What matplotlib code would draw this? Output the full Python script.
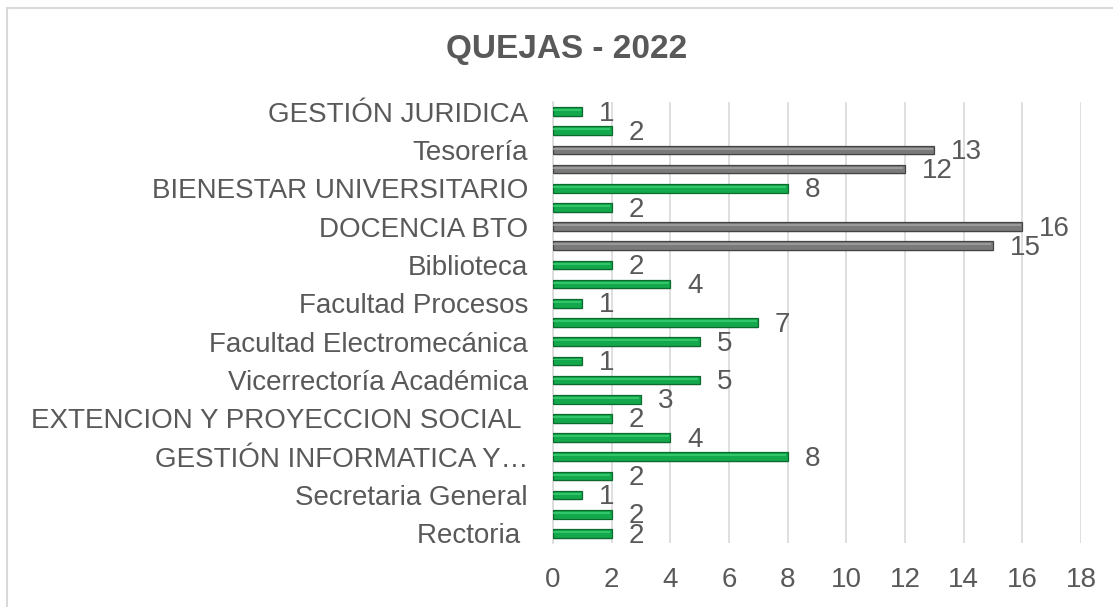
import matplotlib
matplotlib.use("Agg")
import matplotlib.pyplot as plt
import numpy as np
from matplotlib.patches import Rectangle

TITLE = "QUEJAS - 2022"

# Excel only shows every other category label; hidden ones left blank
categories = [
    "GESTIÓN JURIDICA", "", "Tesorería", "", "BIENESTAR UNIVERSITARIO", "",
    "DOCENCIA BTO", "", "Biblioteca", "", "Facultad Procesos", "",
    "Facultad Electromecánica", "", "Vicerrectoría Académica", "",
    "EXTENCION Y PROYECCION SOCIAL ", "", "GESTIÓN INFORMATICA Y…", "",
    "Secretaria General", "", "Rectoria ",
]
quejas = [1, 2, 13, 12, 8, 2, 16, 15, 2, 4, 1, 7, 5, 1, 5, 3, 2, 4, 8, 2, 1, 2, 2]
x_ticks = [0, 2, 4, 6, 8, 10, 12, 14, 16, 18]

TEXT = "#595959"
GREEN, GREEN_EDGE, GREEN_HI = "#13a84b", "#0b6a2e", "#3fd477"
GREY, GREY_EDGE, GREY_HI = "#7a7a7a", "#444444", "#a8a8a8"

plt.rcParams["font.family"] = ["Liberation Sans", "DejaVu Sans"]

fig = plt.figure(figsize=(11.13, 6.07), dpi=100)
ax = fig.add_axes([0.4969, 0.1054, 0.4744, 0.7266])

y = np.arange(len(quejas))
vals = np.array(quejas)
big = vals > 10
face = [GREY if b else GREEN for b in big]
edge = [GREY_EDGE if b else GREEN_EDGE for b in big]
hi = [GREY_HI if b else GREEN_HI for b in big]

# soft shadow, main bar, highlight stripe
ax.barh(y + 0.1, vals, height=0.45, color="#000000", alpha=0.08, zorder=2)
ax.barh(y, vals, height=0.45, color=face, edgecolor=edge, linewidth=0.9, zorder=3)
ax.barh(y - 0.07, vals - 0.06, height=0.1, color=hi, alpha=0.7, linewidth=0, zorder=4)

for yi, v in zip(y, vals):
    ax.annotate(str(v), (v, yi), xytext=(12, -1.5), textcoords="offset points",
                ha="left", va="center", fontsize=20, color=TEXT, zorder=5)

ax.set_xlim(0, 18)
ax.set_ylim(len(quejas) - 0.5, -0.5)
ax.set_xticks(x_ticks)
ax.set_xticklabels([str(t) for t in x_ticks], fontsize=20, color=TEXT)
ax.set_yticks(y)
ax.set_yticklabels(categories, fontsize=20, color=TEXT)
ax.tick_params(axis="both", length=0)
ax.tick_params(axis="y", pad=18)
ax.tick_params(axis="x", pad=17)

ax.grid(axis="x", color="#d9d9d9", linewidth=1.2, zorder=0)
ax.set_axisbelow(True)
for side in ["top", "right", "bottom"]:
    ax.spines[side].set_visible(False)
ax.spines["left"].set_color("#d9d9d9")
ax.spines["left"].set_linewidth(1.2)

fig.text(0.509, 0.919, TITLE, ha="center", va="center", fontsize=24,
         fontweight="bold", color=TEXT)

# chart frame (right and bottom edges fall outside the image)
fig.patches.append(Rectangle((0.0063, -0.1), 1.2, 1.0868, transform=fig.transFigure,
                             fill=False, edgecolor="#d9d9d9", linewidth=1.5))

fig.savefig("out.png", dpi=100)
